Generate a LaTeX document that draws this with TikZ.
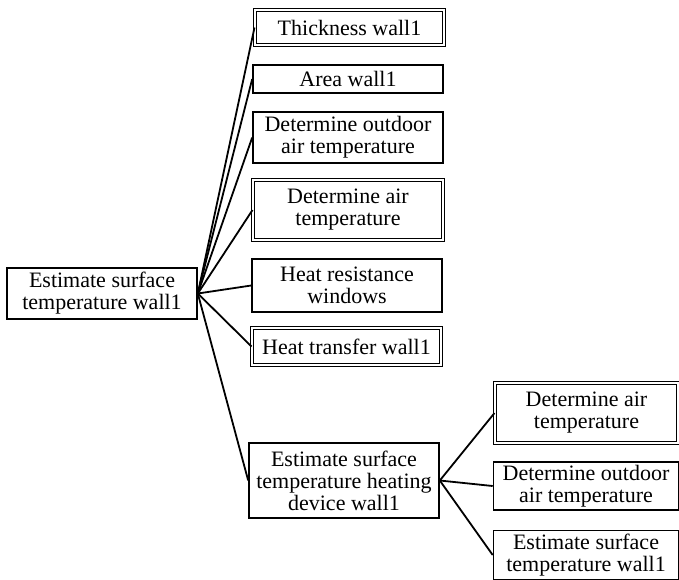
\documentclass[tikz,border=0pt]{standalone}
\usepackage{fontspec}
\setmainfont{Liberation Serif}
\usetikzlibrary{positioning}

\begin{document}
\begin{tikzpicture}[
      x=1pt, y=-1pt,
      box/.style ={rectangle, draw, line width=1.6pt, align=center, inner sep=1pt,
                   minimum width=190pt, font=\fontsize{22}{22}\selectfont},
      dbox/.style={box, double, line width=1pt, double distance=1.6pt},
      link/.style={line width=1.8pt}
    ]
    \useasboundingbox (0,0) rectangle (679,579);

    \node [box, minimum height=51pt] (root) at (102,293.5) {Estimate surface\\temperature wall1} ;

    \node [dbox, minimum height=35pt, minimum width=189pt] (thick) at (349.5,27.5) {Thickness wall1} ;
    \node [box, minimum height=28pt] (area) at (348,79) {Area wall1} ;
    \node [box, minimum height=51pt] (outdoor) at (348,137.5) {Determine outdoor\\air temperature} ;
    \node [dbox, minimum height=60pt] (air) at (348,210) {Determine air\\temperature} ;
    \node [box, minimum height=53pt] (resist) at (347,285.5) {Heat resistance\\windows} ;
    \node [dbox, minimum height=37pt, minimum width=189pt] (transfer) at (346.5,346.5) {Heat transfer wall1} ;
    \node [box, minimum height=75pt] (heating) at (344,480.5) {Estimate surface\\temperature heating\\device wall1} ;

    \node [dbox, minimum height=60pt, minimum width=183pt] (airB) at (586.5,413) {Determine air\\temperature} ;
    \node [box, minimum height=48pt, minimum width=185pt] (outdoorB) at (586,486) {Determine outdoor\\air temperature} ;
    \node [box, minimum height=49pt, minimum width=185pt] (surfB) at (586,555) {Estimate surface\\temperature wall1} ;

    \draw [link] (root.east) -- (thick.west) ;
    \draw [link] (root.east) -- (area.west) ;
    \draw [link] (root.east) -- (outdoor.west) ;
    \draw [link] (root.east) -- (air.west) ;
    \draw [link] (root.east) -- (resist.west) ;
    \draw [link] (root.east) -- (transfer.west) ;
    \draw [link] (root.east) -- (heating.west) ;
    \draw [link] (heating.east) -- (airB.west) ;
    \draw [link] (heating.east) -- (outdoorB.west) ;
    \draw [link] (heating.east) -- (surfB.west) ;
  \end{tikzpicture}
\end{document}
